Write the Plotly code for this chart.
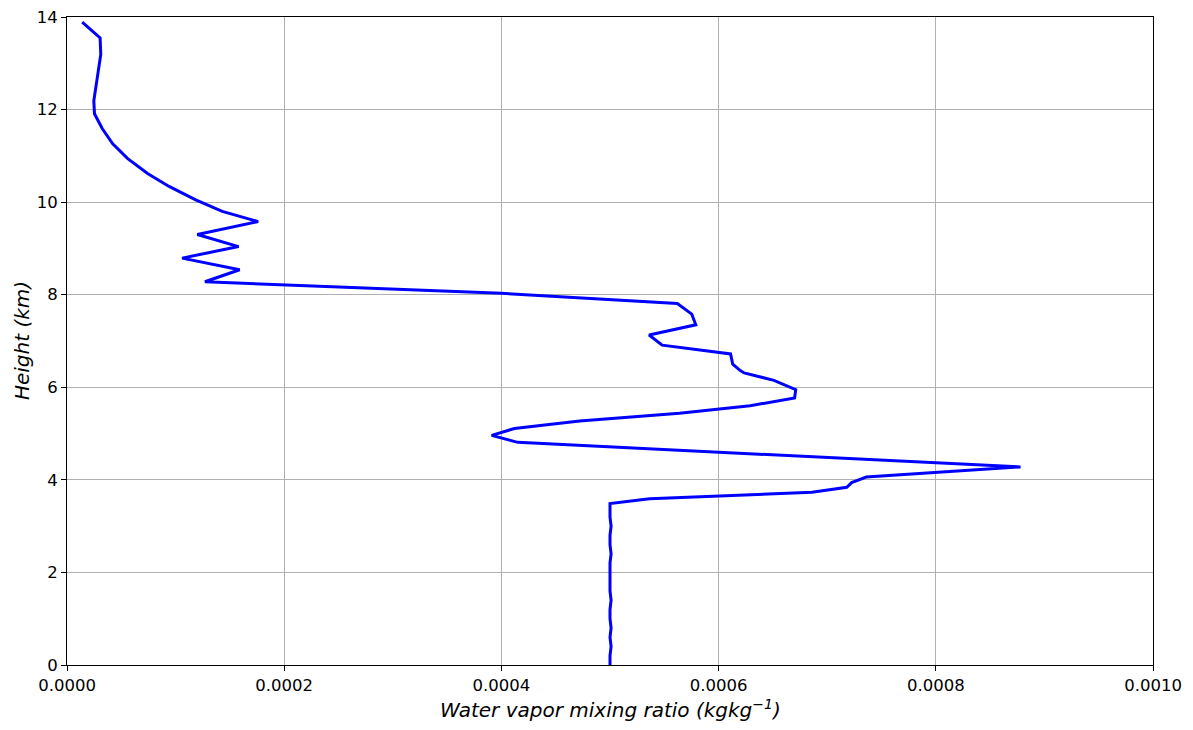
import plotly.graph_objects as go

# Vertical profile of water vapor mixing ratio (kg/kg) against height (km)
height_km = [
    0.00, 0.20, 0.40, 0.60, 0.80, 1.00, 1.20, 1.40, 1.60, 1.80, 2.00,
    2.20, 2.40, 2.60, 2.80, 3.00, 3.20, 3.40, 3.49,
    3.59, 3.73, 3.84, 3.94, 4.06, 4.28,
    4.81, 4.96, 5.11, 5.27, 5.44, 5.60, 5.77, 5.95,
    6.15, 6.31, 6.36, 6.50, 6.72, 6.91, 7.13, 7.35, 7.58, 7.81,
    8.03, 8.28,
    8.54, 8.79, 9.04, 9.30, 9.58, 9.80, 10.05, 10.34, 10.62, 10.94,
    11.26, 11.59, 11.91, 12.19, 13.19, 13.55, 13.89,
]
mixing_ratio = [
    0.000500, 0.000500, 0.000501, 0.000500, 0.000501, 0.000500, 0.000500, 0.000501, 0.000500, 0.000500, 0.000500,
    0.000500, 0.000501, 0.000500, 0.000500, 0.000501, 0.000500, 0.000500, 0.000500,
    0.0005365, 0.000686, 0.000718, 0.0007225, 0.000736, 0.000878,
    0.000415, 0.000391, 0.000412, 0.000472, 0.000564, 0.000629, 0.000670, 0.000671,
    0.000651, 0.0006235, 0.000620, 0.000613, 0.000611, 0.000548, 0.000536, 0.000579, 0.0005753, 0.000562,
    0.000400, 0.000127,
    0.000159, 0.000106, 0.000158, 0.000120, 0.000176, 0.000143, 0.0001185, 0.000094, 0.0000742, 0.0000559,
    0.0000421, 0.0000324, 0.0000253, 0.0000247, 0.0000311, 0.0000305, 0.000014,
]

x_ticks = [0.0, 0.0002, 0.0004, 0.0006, 0.0008, 0.0010]
y_ticks = [0, 2, 4, 6, 8, 10, 12, 14]

x_title = "<i>Water vapor mixing ratio (kgkg<sup>−1</sup>)</i>"
y_title = "<i>Height (km)</i>"

fig = go.Figure()
fig.add_trace(go.Scatter(
    x=mixing_ratio, y=height_km, mode="lines",
    line=dict(color="#0000ff", width=3),
    showlegend=False,
))

axis_common = dict(
    showgrid=True, gridcolor="#b0b0b0", gridwidth=1,
    showline=True, linecolor="#000000", linewidth=1, mirror=True,
    ticks="outside", ticklen=5, tickcolor="#000000", tickwidth=1,
    tickfont=dict(family="DejaVu Sans", size=16.5, color="#000000"),
    zeroline=False, automargin=False,
)

title_font = dict(family="DejaVu Sans", size=20, color="#000000")

fig.update_layout(
    width=1193, height=730,
    margin=dict(l=67, r=40, t=17, b=65),
    paper_bgcolor="white", plot_bgcolor="white",
    xaxis=dict(range=[0, 0.001], tickvals=x_ticks, tickformat=".4f", **axis_common),
    yaxis=dict(range=[0, 14], tickvals=y_ticks, **axis_common),
    annotations=[
        dict(text=x_title, xref="paper", yref="paper", x=0.5, y=-0.068,
             xanchor="center", yanchor="middle", showarrow=False, font=title_font),
        dict(text=y_title, xref="paper", yref="paper", x=-0.0414, y=0.5,
             xanchor="center", yanchor="middle", textangle=-90, showarrow=False,
             font=title_font),
    ],
)

fig.write_html("out.html")
